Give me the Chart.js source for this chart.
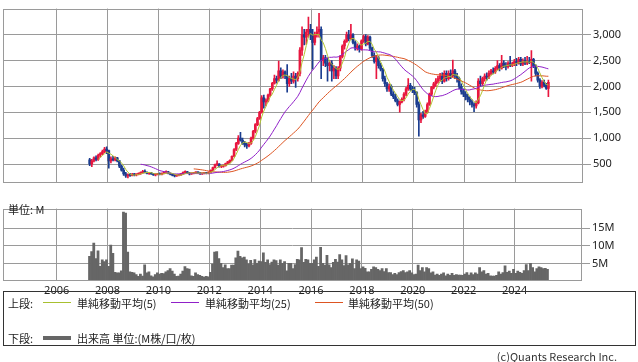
<!DOCTYPE html>
<html>
<head>
<meta charset="utf-8">
<script src="https://cdn.jsdelivr.net/npm/chart.js@4.4.1/dist/chart.umd.min.js"></script>
<style>
body { margin: 0; background: #fff; width: 638px; height: 362px; position: relative; overflow: hidden;
       font-family: "Noto Sans CJK JP", "Noto Sans", sans-serif; color: #222; }
#priceChart { position: absolute; left: 0; top: 0; }
#volChart { position: absolute; left: 0; top: 200px; }
.unit { position: absolute; left: 8px; top: 202px; font-size: 11px; line-height: 14px; }
#legend { position: absolute; left: 3px; top: 291px; width: 631px; height: 53px; border: 1px solid #333; font-size: 11px; }
#legend span { position: absolute; line-height: 14px; white-space: nowrap; }
#legend .ln { height: 1px; width: 28px; }
.copy { position: absolute; right: 21px; top: 349px; font-size: 11px; line-height: 14px; color: #333; }
</style>
</head>
<body>
<canvas id="priceChart" width="638" height="191"></canvas>
<canvas id="volChart" width="638" height="100"></canvas>
<div class="unit">単位: M</div>
<div id="legend">
  <span style="left:4px;top:4px">上段:</span>
  <span class="ln" style="left:39px;top:10px;background:#a8c030"></span>
  <span style="left:73px;top:4px">単純移動平均(5)</span>
  <span class="ln" style="left:167px;top:10px;background:#9020c8"></span>
  <span style="left:201px;top:4px">単純移動平均(25)</span>
  <span class="ln" style="left:311px;top:10px;background:#dd5522"></span>
  <span style="left:344px;top:4px">単純移動平均(50)</span>
  <span style="left:4px;top:39px">下段:</span>
  <span class="ln" style="left:39px;top:44px;height:4px;background:#666"></span>
  <span style="left:73px;top:39px">出来高 単位:(M株/口/枚)</span>
</div>
<div class="copy">(c)Quants Research Inc.</div>
<script>
// monthly candles, Apr 2007 .. Apr 2025
const startYear = 2007, startMonth = 4;
const yearTicks = [2006, 2008, 2010, 2012, 2014, 2016, 2018, 2020, 2022, 2024];
const priceTicks = [500, 1000, 1500, 2000, 2500, 3000];
const volumeTicks = [5, 10, 15];

const priceOpen = [
  580,500,560,620,590,670,700,740,790,
  760,560,600,580,620,560,460,380,310,270,290,280,
  300,290,300,320,340,360,340,320,330,310,290,300,
  310,300,320,340,350,320,300,280,270,280,290,310,
  340,350,330,310,320,330,340,330,310,320,330,320,
  340,380,430,490,500,450,460,470,510,540,570,650,
  780,900,1000,960,900,870,850,900,1000,1130,1260,1380,
  1500,1780,1700,1720,1830,1950,2060,2150,2120,2300,2200,2280,
  2200,2050,2150,2100,2200,2150,2250,2700,3000,2950,3050,3100,
  3000,2850,3000,3050,3100,2500,2550,2450,2400,2450,2300,2350,
  2200,2350,2580,2780,2870,3000,2920,3000,2850,2750,2780,2720,
  2880,2960,2820,2950,2740,2600,2480,2550,2400,2330,2150,2050,
  1950,2000,1850,1800,1720,1650,1700,1750,1850,1950,2020,1950,
  1920,1880,1650,1350,1450,1420,1500,1650,1850,1980,2050,2100,
  2150,2200,2100,2250,2150,2250,2200,2300,2200,2150,2000,1900,
  1850,1800,1750,1700,1650,1620,1680,2100,2050,2150,2200,2180,
  2250,2300,2280,2350,2400,2350,2450,2400,2380,2450,2400,2430,
  2480,2450,2520,2430,2500,2450,2480,2460,2520,2400,2250,2120,
  2000,2080,2020,1960
];
const priceHigh = [
  610,590,640,660,690,720,770,820,830,
  770,640,650,640,630,570,480,420,340,310,320,320,
  320,310,330,350,380,390,350,340,340,320,310,320,
  330,330,350,370,360,330,310,290,290,300,320,350,
  370,360,340,330,340,350,350,340,330,340,340,350,
  390,440,500,560,510,470,480,520,550,580,660,800,
  920,1050,1110,1000,940,900,920,1020,1150,1280,1400,1520,
  1820,1830,1760,1850,1960,2080,2220,2200,2490,2360,2320,2300,
  2420,2200,2250,2280,2250,2280,2750,3150,3100,3100,3340,3200,
  3100,3050,3150,3410,3150,2600,2600,2550,2500,2500,2400,2380,
  2380,2600,2800,2900,3050,3080,3200,3020,2880,2820,2800,2900,
  2990,3000,2980,2970,2760,2650,2600,2580,2450,2350,2200,2080,
  2050,2030,1900,1850,1760,1720,1780,1880,1980,2150,2060,2000,
  1980,1900,1700,1480,1520,1540,1680,1870,2000,2080,2150,2200,
  2250,2260,2300,2300,2300,2320,2510,2330,2250,2180,2050,1950,
  1900,1850,1800,1740,1680,1720,2150,2200,2180,2240,2260,2300,
  2330,2360,2380,2500,2440,2600,2500,2460,2480,2580,2470,2520,
  2540,2560,2560,2530,2560,2580,2560,2690,2540,2420,2280,2150,
  2110,2120,2060,2120
];
const priceLow = [
  470,450,540,560,570,630,680,720,700,
  420,520,560,560,540,430,360,280,240,230,260,270,
  270,270,290,300,320,330,310,300,300,280,270,290,
  290,290,310,320,310,290,270,250,260,270,280,300,
  320,320,290,300,310,320,320,300,300,310,310,310,
  330,370,420,470,440,430,440,460,500,520,560,640,
  760,880,940,880,830,800,830,880,980,1100,1240,1360,
  1480,1580,1620,1700,1800,1920,2040,2060,2100,2150,2160,2150,
  1890,2000,2050,2060,1980,2100,2200,2600,2800,2810,2950,2900,
  2330,2800,2950,2950,2150,2400,2380,2100,2300,2100,2150,2150,
  2150,2300,2550,2720,2850,2880,2900,2820,2700,2700,2660,2700,
  2850,2780,2800,2700,2560,2450,2150,2350,2300,2100,2000,1900,
  1900,1820,1760,1700,1620,1500,1680,1720,1820,1920,1920,1880,
  1840,1600,1040,1300,1380,1400,1480,1630,1820,1950,2000,2060,
  2100,2050,2080,2100,2120,2150,2180,2150,2080,1950,1850,1800,
  1740,1700,1640,1600,1510,1580,1660,2000,2020,2100,2120,2150,
  2220,2240,2250,2320,2300,2330,2360,2320,2350,2380,2380,2400,
  2400,2430,2400,2400,2420,2420,2440,2100,2360,2200,2080,1960,
  1970,1990,1940,1800
];
const priceClose = [
  500,560,620,590,670,700,740,790,760,
  560,600,580,620,560,460,380,310,270,290,280,300,
  290,300,320,340,360,340,320,330,310,290,300,310,
  300,320,340,350,320,300,280,270,280,290,310,340,
  350,330,310,320,330,340,330,310,320,330,320,340,
  380,430,490,500,450,460,470,510,540,570,650,780,
  900,1000,960,900,870,850,900,1000,1130,1260,1380,1500,
  1780,1700,1720,1830,1950,2060,2150,2120,2300,2200,2280,2200,
  2050,2150,2100,2200,2150,2250,2700,3000,2950,3050,3100,3000,
  2850,3000,3050,3100,2500,2550,2450,2400,2450,2300,2350,2200,
  2350,2580,2780,2870,3000,2920,3000,2850,2750,2780,2720,2880,
  2960,2820,2950,2740,2600,2480,2550,2400,2330,2150,2050,1950,
  2000,1850,1800,1720,1650,1700,1750,1850,1950,2020,1950,1920,
  1880,1650,1350,1450,1420,1500,1650,1850,1980,2050,2100,2150,
  2200,2100,2250,2150,2250,2200,2300,2200,2150,2000,1900,1850,
  1800,1750,1700,1650,1620,1680,2100,2050,2150,2200,2180,2250,
  2300,2280,2350,2400,2350,2450,2400,2380,2450,2400,2430,2480,
  2450,2520,2430,2500,2450,2480,2460,2520,2400,2250,2120,2000,
  2080,2020,1960,2080
];
// volume in millions
const volume = [
  7.0,8.4,10.8,6.4,8.6,4.2,6.0,5.5,6.0,
  4.2,10.2,7.9,2.5,2.3,2.3,2.9,19.6,19.3,8.2,2.6,2.5,
  2.3,1.8,1.3,2.0,1.4,4.6,2.3,2.6,1.5,1.2,1.8,2.3,
  2.0,2.2,2.1,2.6,3.0,3.5,2.8,2.0,1.3,1.4,2.0,2.8,
  4.1,3.5,3.4,1.5,1.3,2.3,1.8,1.6,1.3,1.1,1.3,1.2,
  2.5,4.8,8.2,8.4,6.4,5.0,3.8,4.6,3.5,3.5,4.5,4.5,
  6.6,8.5,7.0,6.6,6.8,6.0,4.9,5.9,4.6,6.1,5.0,5.7,
  5.5,8.0,5.3,6.0,4.7,5.4,6.0,5.8,4.5,6.0,5.0,5.5,
  2.9,5.0,5.0,3.5,4.7,6.2,6.0,9.5,5.3,6.2,6.0,5.0,
  5.0,6.0,6.8,4.2,9.6,5.0,4.5,7.3,4.6,3.8,5.3,6.2,
  5.4,7.5,6.0,4.4,7.2,4.6,5.0,6.3,3.5,6.0,5.7,3.5,
  4.0,3.6,2.6,2.6,3.3,4.0,3.8,3.3,3.0,3.5,2.7,3.5,
  2.4,2.4,1.8,2.2,1.8,2.4,2.7,3.0,2.4,2.6,3.0,2.3,
  1.8,2.0,4.5,3.0,3.8,2.6,3.8,3.5,2.3,2.6,1.7,2.0,
  1.6,2.0,2.3,1.5,2.0,1.6,2.2,1.6,1.8,1.7,1.7,1.6,
  2.0,2.4,1.7,2.3,1.8,2.3,2.0,3.8,2.6,3.0,2.0,2.2,
  1.5,1.4,1.4,1.6,2.6,2.0,2.4,4.3,2.5,2.8,2.2,3.3,
  2.2,2.8,2.5,2.2,3.0,4.7,3.0,5.0,3.8,2.6,3.5,4.0,
  3.8,3.5,3.6,3.3
];

const UP = '#e8173f', DOWN = '#1b3d8f', GRID = '#9a9a9a';
const X_MIN = 2003.89, X_MAX = 2026.65;

// x position of each month (middle of the month, in years)
const months = priceClose.map((_, i) => {
  const m = startMonth - 1 + i;
  return startYear + Math.floor(m / 12) + ((m % 12) + 0.5) / 12;
});

// simple moving average of the monthly closes
function sma(n) {
  const out = [];
  for (let i = n - 1; i < priceClose.length; i++) {
    let s = 0;
    for (let j = i - n + 1; j <= i; j++) s += priceClose[j];
    out.push({ x: months[i], y: s / n });
  }
  return out;
}

const candleColor = ctx => priceClose[ctx.dataIndex] >= priceOpen[ctx.dataIndex] ? UP : DOWN;

const framePlugin = {
  id: 'frame',
  afterDraw(chart) {
    const { ctx, chartArea: a } = chart;
    ctx.save();
    ctx.strokeStyle = GRID;
    ctx.lineWidth = 1;
    ctx.strokeRect(Math.round(a.left) + 0.5, Math.round(a.top) + 0.5,
      Math.round(a.right - a.left) - 1, Math.round(a.bottom - a.top) - 1);
    ctx.restore();
  }
};

Chart.defaults.font.family = '"Noto Sans", "Noto Sans CJK JP", sans-serif';
Chart.defaults.font.size = 11;
Chart.defaults.color = '#222';

const commonX = {
  type: 'linear', min: X_MIN, max: X_MAX, offset: false,
  afterBuildTicks: s => { s.ticks = yearTicks.map(v => ({ value: v })); },
  grid: { color: GRID, drawTicks: false, offset: false },
  border: { display: false }
};

new Chart(document.getElementById('priceChart'), {
  type: 'bar',
  data: {
    datasets: [
      { type: 'line', label: 'MA5', data: sma(5), borderColor: '#b2c431', borderWidth: 1, pointRadius: 0, order: 0 },
      { type: 'line', label: 'MA25', data: sma(25), borderColor: '#9020c8', borderWidth: 1, pointRadius: 0, order: 0 },
      { type: 'line', label: 'MA50', data: sma(50), borderColor: '#dd5522', borderWidth: 1, pointRadius: 0, order: 0 },
      { label: 'body', data: months.map((x, i) => ({ x, y: [priceOpen[i], priceClose[i]] })),
        backgroundColor: candleColor, barThickness: 2, minBarLength: 1, grouped: false, order: 1 },
      { label: 'wick', data: months.map((x, i) => ({ x, y: [priceLow[i], priceHigh[i]] })),
        backgroundColor: candleColor, barThickness: 1, grouped: false, order: 2 }
    ]
  },
  options: {
    responsive: false, animation: false,
    layout: { padding: { left: 3, top: 1, right: 0, bottom: 0 } },
    plugins: { legend: { display: false }, tooltip: { enabled: false } },
    scales: {
      x: { ...commonX, ticks: { display: false } },
      y: {
        position: 'right', min: 145, max: 3502,
        afterBuildTicks: s => { s.ticks = priceTicks.map(v => ({ value: v })); },
        afterFit: s => { s.width = 55; },
        ticks: { padding: 2, callback: v => v.toLocaleString('en-US') },
        grid: { color: GRID, tickLength: 8 },
        border: { display: false }
      }
    }
  },
  plugins: [framePlugin]
});

new Chart(document.getElementById('volChart'), {
  type: 'bar',
  data: {
    datasets: [{
      label: '出来高', data: months.map((x, i) => ({ x, y: volume[i] })),
      backgroundColor: '#666666', categoryPercentage: 1, barPercentage: 1
    }]
  },
  options: {
    responsive: false, animation: false,
    layout: { padding: { left: 3, top: 2, right: 1, bottom: 0 } },
    plugins: { legend: { display: false }, tooltip: { enabled: false } },
    scales: {
      x: { ...commonX, afterFit: s => { s.height = 19; },
           ticks: { padding: 3, callback: v => String(v), maxRotation: 0 } },
      y: {
        position: 'right', min: 0, max: 20.6,
        afterBuildTicks: s => { s.ticks = volumeTicks.map(v => ({ value: v })); },
        afterFit: s => { s.width = 55; },
        ticks: { padding: 2, callback: v => v + 'M' },
        grid: { color: GRID, tickLength: 8 },
        border: { display: false }
      }
    }
  },
  plugins: [framePlugin]
});
</script>
</body>
</html>
